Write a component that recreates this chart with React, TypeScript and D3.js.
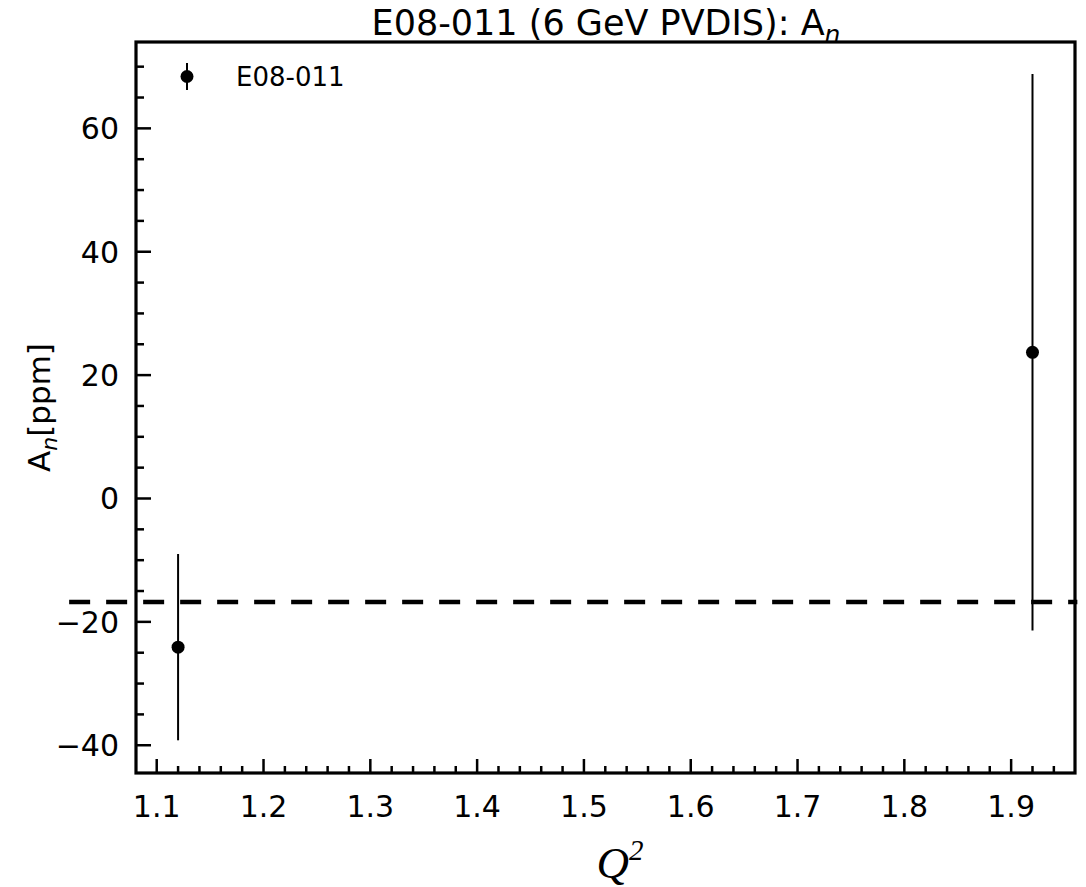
import React from "react";
import * as d3 from "d3";

const q2 = [1.12, 1.92];
const an = [-24.1, 23.7];
const anErr = [15.1, 45.1];
const dashLevel = -16.8;
const dashRange = [1.018, 1.962];
const xTicks = [1.1, 1.2, 1.3, 1.4, 1.5, 1.6, 1.7, 1.8, 1.9];
const yTicks = [-40, -20, 0, 20, 40, 60];

const W = 1086, H = 887;
const M = { left: 136, right: 1075, top: 42, bottom: 773 };
const FONT = "DejaVu Sans";

export default function App() {
  const x = d3.scaleLinear().domain([1.0806, 1.9598]).range([M.left, M.right]);
  const y = d3.scaleLinear().domain([-44.5, 74]).range([M.bottom, M.top]);
  const xMinor = d3.range(1.08, 1.96, 0.02).filter(v => v >= 1.0806 && v <= 1.9598 && Math.abs(Math.round(v * 10) - v * 10) > 1e-6);
  const yMinor = d3.range(-40, 75, 5).filter(v => v % 20 !== 0);
  const fmtX = d3.format(".1f");
  const fmtY = (v: number) => (v < 0 ? "\u2212" + Math.abs(v) : String(v));
  return (
    <svg width={W} height={H} style={{ position: "absolute", left: 0, top: 0, background: "#fff" }}>
      <rect x={0} y={0} width={W} height={H} fill="#fff" />
      <line x1={x(dashRange[0])} x2={x(dashRange[1])} y1={y(dashLevel)} y2={y(dashLevel)}
        stroke="#000" strokeWidth={4.5} strokeDasharray="21 16" />
      {q2.map((q, i) => (
        <g key={i}>
          <line x1={x(q)} x2={x(q)} y1={y(an[i] - anErr[i])} y2={y(an[i] + anErr[i])} stroke="#000" strokeWidth={2} />
          <circle cx={x(q)} cy={y(an[i])} r={6.5} fill="#000" />
        </g>
      ))}
      {xTicks.map(t => (
        <g key={"xt" + t}>
          <line x1={x(t)} x2={x(t)} y1={M.bottom} y2={M.bottom - 14} stroke="#000" strokeWidth={2.5} />
          <text x={x(t)} y={M.bottom + 44} fontFamily={FONT} fontSize={30} textAnchor="middle">{fmtX(t)}</text>
        </g>
      ))}
      {xMinor.map(t => (
        <line key={"xm" + t} x1={x(t)} x2={x(t)} y1={M.bottom} y2={M.bottom - 7} stroke="#000" strokeWidth={2.5} />
      ))}
      {yTicks.map(t => (
        <g key={"yt" + t}>
          <line x1={M.left} x2={M.left + 15} y1={y(t)} y2={y(t)} stroke="#000" strokeWidth={2.5} />
          <text x={M.left - 17} y={y(t) + 11} fontFamily={FONT} fontSize={30} textAnchor="end">{fmtY(t)}</text>
        </g>
      ))}
      {yMinor.map(t => (
        <line key={"ym" + t} x1={M.left} x2={M.left + 8} y1={y(t)} y2={y(t)} stroke="#000" strokeWidth={2.5} />
      ))}
      <rect x={M.left} y={M.top} width={M.right - M.left} height={M.bottom - M.top} fill="none" stroke="#000" strokeWidth={3.2} />
      <line x1={187} x2={187} y1={63} y2={90} stroke="#000" strokeWidth={2} />
      <circle cx={187} cy={76.5} r={6.5} fill="#000" />
      <text x={236} y={86} fontFamily={FONT} fontSize={26}>E08-011</text>
      <text x={606} y={35} fontFamily={FONT} fontSize={35} textAnchor="middle">
        E08-011 (6 GeV PVDIS): A<tspan fontStyle="italic" fontSize={25} dy={8}>n</tspan>
      </text>
      <g transform={`translate(50,${(M.top + M.bottom) / 2}) rotate(-90)`}>
        <text x={0} y={0} fontFamily={FONT} fontSize={31} textAnchor="middle">
          A<tspan fontStyle="italic" fontSize={22} dy={7}>n</tspan><tspan dy={-7}>[ppm]</tspan>
        </text>
      </g>
      <text x={620} y={878} fontFamily="Liberation Serif" fontStyle="italic" fontSize={45} textAnchor="middle">
        Q<tspan fontSize={29} dy={-18}>2</tspan>
      </text>
    </svg>
  );
}
